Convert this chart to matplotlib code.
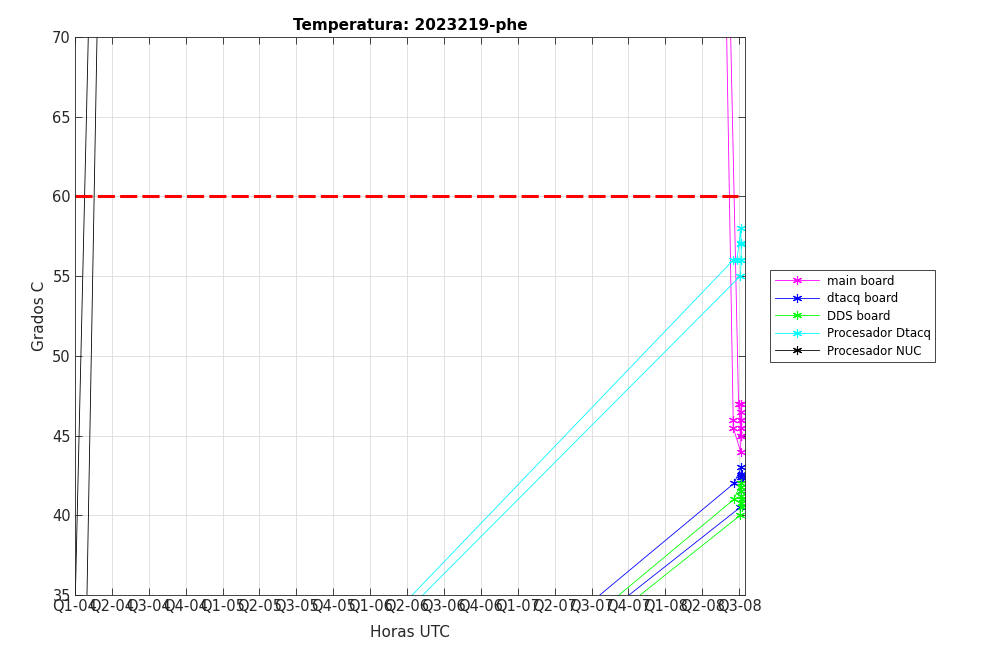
import numpy as np
import matplotlib
matplotlib.use("Agg")
import matplotlib.pyplot as plt

# x axis in quarters: 0 = Q1-04 ... 18 = Q3-08
quarter_labels = ['Q1-04', 'Q2-04', 'Q3-04', 'Q4-04',
                  'Q1-05', 'Q2-05', 'Q3-05', 'Q4-05',
                  'Q1-06', 'Q2-06', 'Q3-06', 'Q4-06',
                  'Q1-07', 'Q2-07', 'Q3-07', 'Q4-07',
                  'Q1-08', 'Q2-08', 'Q3-08']

# ── series (several points lie outside the visible window) ────────────────────
main_x = [17.59, 17.84, 17.84, 18.04, 18.05, 18.05, 18.06, 18.05, 18.06,
          18.05, 18.04, 18.05, 18.06, 17.985, 17.68]
main_y = [80, 46.0, 45.5, 44.0, 45.0, 45.5, 46.0, 46.5, 47.0,
          46.0, 45.0, 45.5, 45.0, 47.0, 80]

dtacq_x = [11.63, 17.86, 18.06, 18.07, 18.06, 18.07, 18.06, 18.05, 18.07, 18.03, 12.28]
dtacq_y = [30, 42.0, 43.0, 42.6, 42.4, 42.2, 42.5, 41.5, 41.0, 40.5, 30]

dds_x = [12.15, 17.86, 18.05, 18.06, 18.05, 18.07, 18.06, 18.08, 18.05, 18.03, 12.61]
dds_y = [30, 41.0, 42.0, 41.5, 41.8, 41.0, 40.8, 40.5, 41.2, 40.0, 30]

proc_dtacq_x = [7.07, 17.84, 17.94, 18.05, 18.05, 18.06, 18.05, 18.06, 18.03, 7.28]
proc_dtacq_y = [30, 56.0, 56.0, 58.0, 57.1, 57.0, 56.0, 56.0, 55.0, 30]

nuc_x = [-0.04, 0.41, np.nan, 0.286, 0.635]
nuc_y = [30, 75, np.nan, 30, 75]

limit_x = [0, 17.97]
limit_y = [60, 60]

# ── figure ────────────────────────────────────────────────────────────────────
fig = plt.figure(figsize=(10.08, 6.61), dpi=100)
ax = fig.add_axes([75/1008, 66/661, 670/1008, 558/661])

ast = (6, 2, 0)
kw = dict(marker=ast, markersize=6.5, linewidth=0.6, markeredgewidth=0.8)
ax.plot(main_x, main_y, color='#ff00ff', label='main board', **kw)
ax.plot(dtacq_x, dtacq_y, color='#0000ff', label='dtacq board', **kw)
ax.plot(dds_x, dds_y, color='#00ff00', label='DDS board', **kw)
ax.plot(proc_dtacq_x, proc_dtacq_y, color='#00ffff', label='Procesador Dtacq', **kw)
ax.plot(nuc_x, nuc_y, color='black', label='Procesador NUC', **kw)
ax.plot(limit_x, limit_y, color='red', linewidth=2.2, dashes=(5.6, 1.7))

ax.set_xlim(0, 18.16)
ax.set_ylim(35, 70)
ax.set_xticks(range(len(quarter_labels)))
ax.set_xticklabels(quarter_labels)
ax.set_yticks(np.arange(35, 71, 5))

axis_col = '#262626'
ax.tick_params(direction='in', length=5, width=0.6, colors=axis_col,
               labelsize=10.5, top=True, right=True, pad=3)
for s in ax.spines.values():
    s.set_color(axis_col)
    s.set_linewidth(0.6)
ax.grid(True, color='#dcdcdc', linewidth=0.6)
ax.set_axisbelow(True)

ax.set_title('Temperatura: 2023219-phe', fontsize=11, fontweight='bold',
             color='black', pad=5)
ax.set_xlabel('Horas UTC', fontsize=11, color=axis_col, labelpad=8)
ax.set_ylabel('Grados C', fontsize=11, color=axis_col, labelpad=4)

leg = fig.legend(handles=ax.get_lines()[:5], loc='upper left',
                 bbox_to_anchor=(764/1008, 1 - 264/661),
                 fontsize=8.5, handlelength=3.8, labelspacing=0.38,
                 borderpad=0.4, handletextpad=0.6, fancybox=False,
                 framealpha=1)
leg.get_frame().set_edgecolor(axis_col)
leg.get_frame().set_linewidth(0.6)

fig.savefig('out.png', dpi=100)
